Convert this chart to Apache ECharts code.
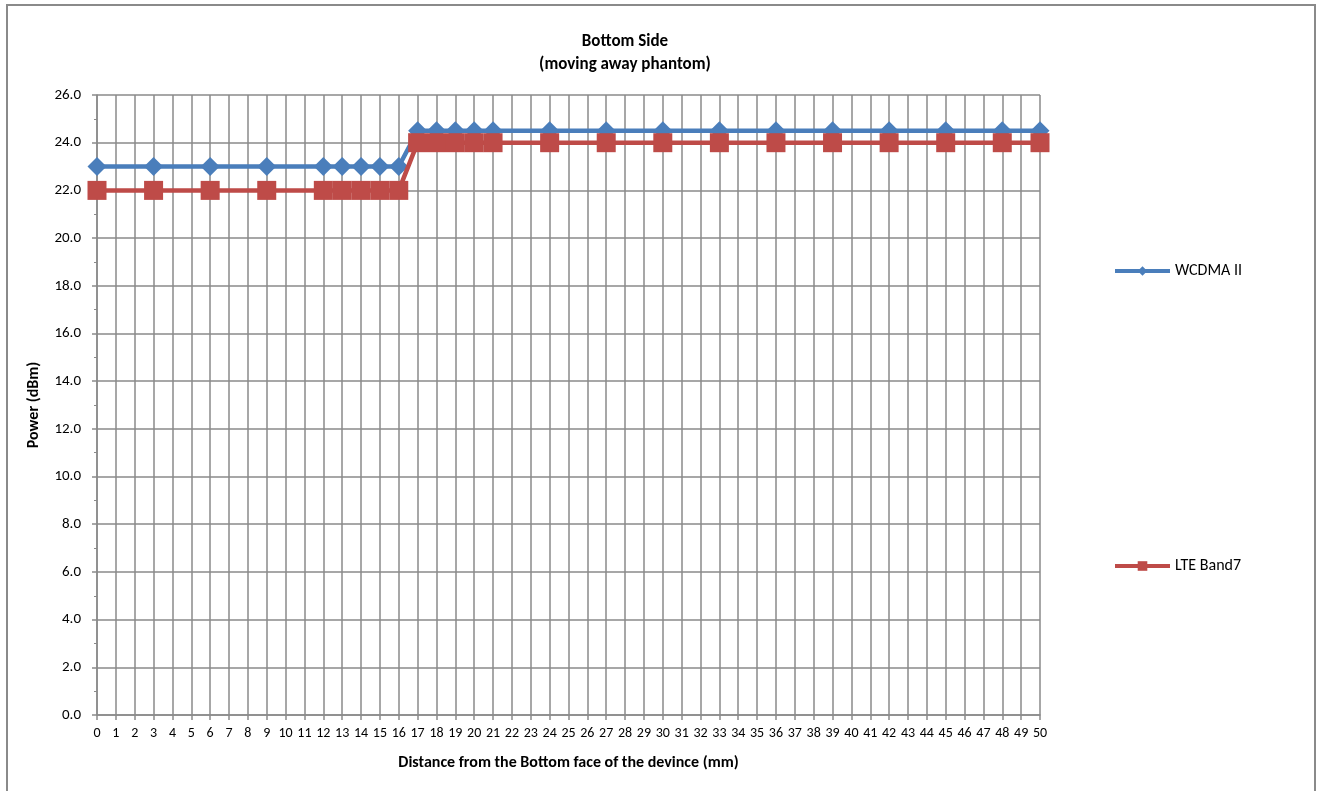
<!DOCTYPE html>
<html>
<head>
<meta charset="utf-8">
<script src="https://cdn.jsdelivr.net/npm/echarts@6/dist/echarts.min.js"></script>
<style>
html,body{margin:0;padding:0;background:#fff;}
#chart{width:1323px;height:791px;}
</style>
</head>
<body>
<div id="chart"></div>
<script>
// Data
const distances = [0, 3, 6, 9, 12, 13, 14, 15, 16, 17, 18, 19, 20, 21, 24, 27, 30, 33, 36, 39, 42, 45, 48, 50];
const wcdmaII  = [23.0, 23.0, 23.0, 23.0, 23.0, 23.0, 23.0, 23.0, 23.0, 24.5, 24.5, 24.5, 24.5, 24.5, 24.5, 24.5, 24.5, 24.5, 24.5, 24.5, 24.5, 24.5, 24.5, 24.5];
const lteBand7 = [22.0, 22.0, 22.0, 22.0, 22.0, 22.0, 22.0, 22.0, 22.0, 24.0, 24.0, 24.0, 24.0, 24.0, 24.0, 24.0, 24.0, 24.0, 24.0, 24.0, 24.0, 24.0, 24.0, 24.0];
const seriesNames = ['WCDMA II', 'LTE Band7'];
const titleText = 'Bottom Side\n(moving away phantom)';
const xAxisName = 'Distance from the Bottom face of the devince (mm)';
const yAxisName = 'Power (dBm)';

const pair = (xs, ys) => xs.map((x, i) => [x, ys[i]]);
const FONT = 'Carlito, Calibri, Lato, "Open Sans", sans-serif';
const GRID = '#8a8a8a';

const chart = echarts.init(document.getElementById('chart'), null, {renderer: 'canvas'});
chart.setOption({
  animation: false,
  backgroundColor: '#fff',
  textStyle: {fontFamily: FONT},
  title: {
    text: titleText,
    left: 620, top: 25, textAlign: 'center',
    textStyle: {fontFamily: FONT, fontSize: 17, fontWeight: 'bold', color: '#000', lineHeight: 23}
  },
  graphic: [{
    type: 'rect', shape: {x: 7, y: 5, width: 1308, height: 800},
    style: {fill: 'none', stroke: '#8a8a8a', lineWidth: 2}, silent: true
  }],
  legend: {
    orient: 'vertical', left: 1108, top: 258, itemGap: 279,
    itemWidth: 55, itemHeight: 12,
    lineStyle: {width: 4},
    textStyle: {fontFamily: FONT, fontSize: 16, color: '#000'},
    data: seriesNames
  },
  grid: {left: 97, right: 283, top: 95, bottom: 76, containLabel: false},
  xAxis: {
    type: 'value', min: 0, max: 50, interval: 1,
    name: xAxisName, nameLocation: 'middle', nameGap: 40,
    nameTextStyle: {fontFamily: FONT, fontSize: 16, fontWeight: 'bold', color: '#000'},
    axisLine: {show: true, onZero: false, lineStyle: {color: GRID, width: 1.5}},
    axisTick: {show: true, length: 5, lineStyle: {color: GRID, width: 1.5}},
    axisLabel: {interval: 0, fontFamily: FONT, fontSize: 14, color: '#000', margin: 11},
    splitLine: {show: true, lineStyle: {color: GRID, width: 1.5}}
  },
  yAxis: {
    type: 'value', min: 0, max: 26, interval: 2,
    name: yAxisName, nameLocation: 'middle', nameGap: 55, nameRotate: 90,
    nameTextStyle: {fontFamily: FONT, fontSize: 16, fontWeight: 'bold', color: '#000'},
    axisLine: {show: true, lineStyle: {color: GRID, width: 1.5}},
    axisTick: {show: true, length: 5, lineStyle: {color: GRID, width: 1.5}},
    minorTick: {show: true, splitNumber: 2, length: 3, lineStyle: {color: GRID, width: 1}},
    axisLabel: {fontFamily: FONT, fontSize: 15, color: '#000', margin: 16,
      formatter: v => v.toFixed(1)},
    splitLine: {show: true, lineStyle: {color: GRID, width: 1.5}}
  },
  series: [
    {
      name: seriesNames[0], type: 'line', data: pair(distances, wcdmaII),
      symbol: 'diamond', symbolSize: 19,
      itemStyle: {color: '#4a7ebb'},
      lineStyle: {color: '#4a7ebb', width: 4.5},
      z: 3
    },
    {
      name: seriesNames[1], type: 'line', data: pair(distances, lteBand7),
      symbol: 'rect', symbolSize: 19,
      itemStyle: {color: '#be4b48'},
      lineStyle: {color: '#be4b48', width: 4.5},
      z: 4
    }
  ]
});
</script>
</body>
</html>
